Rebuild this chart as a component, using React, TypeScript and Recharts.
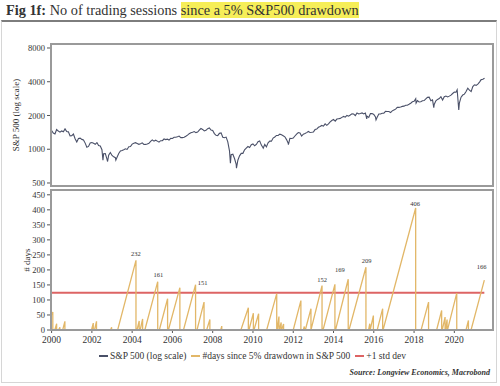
import React from 'react';
import { LineChart, Line, XAxis, YAxis, ReferenceDot } from 'recharts';

const FONT = '"Liberation Serif", "DejaVu Serif", serif';

// ---------- S&P 500 (log scale) ----------
const spxStartYear = 2000;
const spxStartValue = 1469; // close of 1999
// month-end closes, Jan 2000 .. Jun 2021
const spxMonthEnd = [
  1394, 1366, 1499, 1452, 1421, 1455, 1431, 1518, 1437, 1429, 1315, 1320,
  1366, 1240, 1160, 1249, 1256, 1224, 1211, 1134, 1041, 1060, 1139, 1148,
  1130, 1107, 1147, 1077, 1067, 990, 912, 916, 815, 886, 936, 880,
  856, 841, 848, 917, 964, 975, 990, 1008, 996, 1051, 1058, 1112,
  1131, 1145, 1126, 1107, 1121, 1141, 1102, 1104, 1115, 1130, 1174, 1212,
  1181, 1204, 1181, 1157, 1192, 1191, 1234, 1220, 1229, 1207, 1249, 1248,
  1280, 1281, 1295, 1311, 1270, 1270, 1277, 1304, 1336, 1378, 1401, 1418,
  1438, 1407, 1421, 1482, 1531, 1503, 1455, 1474, 1527, 1549, 1481, 1468,
  1378, 1331, 1323, 1386, 1400, 1280, 1267, 1283, 1165, 969, 896, 903,
  826, 735, 798, 873, 919, 919, 987, 1021, 1057, 1036, 1096, 1115,
  1074, 1104, 1169, 1187, 1089, 1031, 1102, 1049, 1141, 1183, 1181, 1258,
  1286, 1327, 1326, 1364, 1345, 1321, 1292, 1219, 1131, 1253, 1247, 1258,
  1312, 1366, 1408, 1398, 1310, 1362, 1379, 1407, 1441, 1412, 1416, 1426,
  1498, 1515, 1569, 1598, 1631, 1606, 1686, 1633, 1682, 1757, 1806, 1848,
  1783, 1859, 1872, 1884, 1924, 1960, 1931, 2003, 1972, 2018, 2068, 2059,
  1995, 2105, 2068, 2086, 2107, 2063, 2104, 1972, 1920, 2079, 2080, 2044,
  1940, 1932, 2060, 2065, 2097, 2099, 2174, 2171, 2168, 2126, 2199, 2239,
  2279, 2364, 2363, 2384, 2412, 2423, 2470, 2472, 2519, 2575, 2648, 2674,
  2824, 2714, 2641, 2648, 2705, 2718, 2816, 2902, 2914, 2712, 2760, 2507,
  2704, 2784, 2834, 2946, 2752, 2942, 2980, 2926, 2977, 3038, 3141, 3231,
  3226, 2954, 2585, 2912, 3044, 3100, 3271, 3500, 3363, 3270, 3622, 3756,
  3714, 3811, 3973, 4181, 4204, 4298,
];
// intra-month extremes visible on the chart
const spxExtremeDates = [2002.55, 2002.78, 2003.19, 2008.88, 2009.18, 2010.51, 2011.76, 2015.65, 2016.11, 2018.1, 2018.98, 2020.14, 2020.22];
const spxExtremeValues = [797, 777, 800, 752, 677, 1022, 1099, 1868, 1829, 2581, 2351, 3386, 2237];

// ---------- # days since 5% drawdown ----------
const daysDates = [
  2000.0, 2000.06, 2000.06, 2000.16, 2000.25, 2000.25, 2000.35, 2000.41, 2000.41, 2000.55, 2000.66, 2000.66,
  2001.98, 2002.07, 2002.07, 2002.13, 2002.23, 2002.23, 2002.93, 2002.98, 2002.98,
  2003.28, 2004.19, 2004.19, 2004.24, 2004.35, 2004.35, 2004.4, 2004.52, 2004.52,
  2004.63, 2005.27, 2005.27, 2005.35, 2005.76, 2005.76, 2005.8, 2006.37, 2006.37,
  2006.55, 2007.15, 2007.15, 2007.22, 2007.57, 2007.57, 2007.7, 2007.86, 2007.86,
  2008.4, 2008.45, 2008.45,
  2009.4, 2009.77, 2009.77, 2009.8, 2010.02, 2010.02, 2010.05, 2010.28, 2010.28,
  2010.68, 2011.18, 2011.18, 2011.2, 2011.29, 2011.29, 2011.31, 2011.4, 2011.4, 2011.42, 2011.52, 2011.52,
  2012.0, 2012.38, 2012.38, 2012.5, 2012.55, 2012.55, 2012.6, 2012.88, 2012.88,
  2013.43, 2013.43, 2013.48, 2014.07, 2014.07, 2014.1, 2014.73, 2014.73, 2014.77, 2015.61, 2015.61,
  2015.74, 2015.8, 2015.8, 2015.82, 2015.98, 2015.98, 2016.17, 2016.44, 2016.44,
  2016.46, 2018.08, 2018.08, 2018.35, 2018.72, 2018.72,
  2019.12, 2019.37, 2019.37, 2019.4, 2019.54, 2019.54, 2019.56, 2019.64, 2019.64,
  2019.66, 2020.12, 2020.12, 2020.58, 2020.7, 2020.7, 2020.83, 2021.49,
];
const daysValues = [
  50, 60, 0, 0, 21, 0, 0, 9, 0, 0, 29, 0,
  0, 23, 0, 0, 29, 0, 0, 9, 0,
  0, 232, 0, 0, 30, 0, 0, 37, 0,
  0, 161, 0, 0, 104, 0, 0, 141, 0,
  0, 151, 0, 0, 93, 0, 0, 35, 0,
  0, 13, 0,
  0, 74, 0, 0, 56, 0, 0, 54, 0,
  0, 121, 0, 0, 45, 0, 0, 25, 0, 0, 20, 0,
  0, 98, 0, 0, 12, 0, 0, 71, 0,
  148, 0, 0, 152, 0, 0, 169, 0, 0, 209, 0,
  0, 21, 0, 0, 48, 0, 0, 71, 0,
  0, 406, 0, 0, 93, 0,
  0, 65, 0, 0, 43, 0, 0, 35, 0,
  0, 123, 0, 0, 32, 0, 0, 166,
];

const stdDevDates = [2000.0, 2021.49];
const stdDevValues = [124, 124];

const peakLabelDates = [2004.19, 2005.3, 2007.5, 2013.43, 2014.32, 2015.65, 2018.05, 2021.36];
const peakLabelValues = [254, 185, 159, 168, 201, 232, 421, 212];
const peakLabelTexts = ['232', '161', '151', '152', '169', '209', '406', '166'];

const xTicks = [2000, 2002, 2004, 2006, 2008, 2010, 2012, 2014, 2016, 2018, 2020];
const spxTicks = [500, 1000, 2000, 4000, 8000];
const daysTicks = [0, 50, 100, 150, 200, 250, 300, 350, 400, 450];

const X_DOMAIN: [number, number] = [1999.97, 2021.92];

const spxData = [
  { x: spxStartYear, v: spxStartValue },
  ...spxMonthEnd.map((v, i) => ({ x: spxStartYear + (i + 1) / 12, v })),
  ...spxExtremeDates.map((x, i) => ({ x, v: spxExtremeValues[i] })),
].sort((a, b) => a.x - b.x);

const daysData = daysDates.map((x, i) => ({ x, d: daysValues[i] }));
const stdData = stdDevDates.map((x, i) => ({ x, s: stdDevValues[i] }));

const SPX_COLOR = '#4a5068';
const DAYS_COLOR = '#e2b768';
const STD_COLOR = '#dd6464';

const tickStyle = { fontSize: 8.5, fill: '#333', fontFamily: FONT };

const AxisTitle = (cx: number) => (props: any) => {
  const vb = props.viewBox || {};
  const cy = vb.y + vb.height / 2;
  return (
    <text
      x={cx}
      y={cy}
      transform={`rotate(-90, ${cx}, ${cy})`}
      textAnchor="middle"
      dominantBaseline="central"
      fontSize={9}
      fill="#333"
      fontFamily={FONT}
    >
      {props.value}
    </text>
  );
};

export default function App() {
  return (
    <div
      style={{
        position: 'fixed',
        left: 0,
        top: 0,
        width: 500,
        height: 386,
        background: '#fff',
        fontFamily: FONT,
        overflow: 'hidden',
        color: '#333',
      }}
    >
      {/* frame */}
      <div
        style={{
          position: 'absolute',
          left: 1,
          top: 20,
          width: 496,
          height: 363,
          boxSizing: 'border-box',
          borderLeft: '1px solid #d6d6d6',
          borderRight: '1px solid #d6d6d6',
          borderBottom: '1px solid #d6d6d6',
          borderTop: '2px solid #7d7d7d',
        }}
      />
      {/* title */}
      <div
        style={{
          position: 'absolute',
          left: 6,
          top: 2,
          fontSize: 14.3,
          lineHeight: '16px',
          whiteSpace: 'nowrap',
          color: '#333',
        }}
      >
        <b>Fig 1f:</b> No of trading sessions{' '}
        <span style={{ background: '#f6ee58' }}>since a 5% S&amp;P500 drawdown</span>
      </div>

      {/* top panel */}
      <div style={{ position: 'absolute', left: 0, top: 0 }}>
        <LineChart width={500} height={190} margin={{ top: 44, right: 7, bottom: 4, left: 0 }}>
          <XAxis type="number" dataKey="x" domain={X_DOMAIN} allowDataOverflow hide />
          <YAxis
            type="number"
            scale="log"
            domain={[470, 8685]}
            allowDataOverflow
            ticks={spxTicks}
            interval={0}
            width={51}
            axisLine={false}
            tickLine={{ stroke: '#555' }}
            tickSize={4}
            tick={tickStyle}
            label={{ value: 'S&P 500 (log scale)', content: AxisTitle(16) }}
          />
          <Line
            data={spxData}
            dataKey="v"
            type="linear"
            stroke={SPX_COLOR}
            strokeWidth={1.1}
            dot={false}
            isAnimationActive={false}
          />
        </LineChart>
      </div>

      {/* bottom panel */}
      <div style={{ position: 'absolute', left: 0, top: 0 }}>
        <LineChart width={500} height={386} margin={{ top: 190, right: 7, bottom: 36, left: 0 }}>
          <XAxis
            type="number"
            dataKey="x"
            domain={X_DOMAIN}
            allowDataOverflow
            ticks={xTicks}
            interval={0}
            height={20}
            axisLine={false}
            tickLine={{ stroke: '#555' }}
            tickSize={3}
            tickMargin={3}
            tick={{ ...tickStyle, fontSize: 9.5 }}
          />
          <YAxis
            type="number"
            domain={[0, 466]}
            allowDataOverflow
            ticks={daysTicks}
            interval={0}
            width={51}
            axisLine={false}
            tickLine={{ stroke: '#555' }}
            tickSize={4}
            tick={tickStyle}
            label={{ value: '# days', content: AxisTitle(27) }}
          />
          <Line
            data={stdData}
            dataKey="s"
            type="linear"
            stroke={STD_COLOR}
            strokeWidth={2}
            dot={false}
            isAnimationActive={false}
          />
          <Line
            data={daysData}
            dataKey="d"
            type="linear"
            stroke={DAYS_COLOR}
            strokeWidth={1.3}
            dot={false}
            isAnimationActive={false}
          />
          {peakLabelTexts.map((t, i) => (
            <ReferenceDot
              key={t + i}
              x={peakLabelDates[i]}
              y={peakLabelValues[i]}
              r={0}
              fill="none"
              stroke="none"
              label={{ value: t, position: 'center', fontSize: 6.5, fill: '#333', fontFamily: FONT }}
            />
          ))}
        </LineChart>
      </div>

      {/* panel boxes */}
      <div
        style={{
          position: 'absolute',
          left: 50,
          top: 43,
          width: 444,
          height: 144,
          boxSizing: 'border-box',
          border: '2px solid #9a9a9a',
        }}
      />
      <div
        style={{
          position: 'absolute',
          left: 50,
          top: 189,
          width: 444,
          height: 142,
          boxSizing: 'border-box',
          border: '2px solid #9a9a9a',
        }}
      />

      {/* legend */}
      <div
        style={{
          position: 'absolute',
          left: 0,
          width: 510,
          top: 351,
          display: 'flex',
          justifyContent: 'center',
          alignItems: 'center',
          fontSize: 9.5,
          color: '#333',
          whiteSpace: 'nowrap',
        }}
      >
        {[
          { c: SPX_COLOR, t: 'S&P 500 (log scale)' },
          { c: DAYS_COLOR, t: '#days since 5% drawdown in S&P 500' },
          { c: STD_COLOR, t: '+1 std dev' },
        ].map((it, i) => (
          <span key={i} style={{ display: 'inline-flex', alignItems: 'center', marginRight: 5 }}>
            <span style={{ display: 'inline-block', width: 9, height: 2, background: it.c, marginRight: 2 }} />
            {it.t}
          </span>
        ))}
      </div>

      {/* source */}
      <div
        style={{
          position: 'absolute',
          right: 10,
          top: 368,
          fontSize: 8,
          fontStyle: 'italic',
          fontWeight: 'bold',
          color: '#333',
          whiteSpace: 'nowrap',
        }}
      >
        Source: Longview Economics, Macrobond
      </div>
    </div>
  );
}
